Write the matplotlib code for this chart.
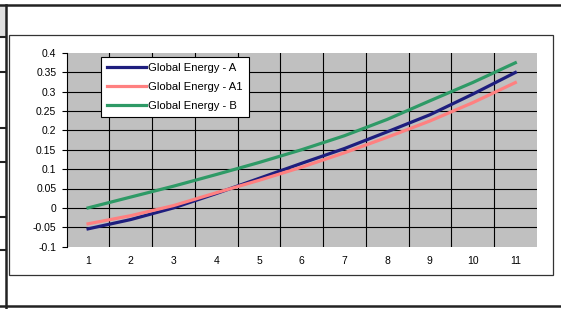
import matplotlib.pyplot as plt
from matplotlib.lines import Line2D
from matplotlib.patches import Rectangle

# values
years = [1, 2, 3, 4, 5, 6, 7, 8, 9, 10, 11]
energy_a = [-0.054, -0.030, 0.000, 0.037, 0.076, 0.115, 0.153, 0.196, 0.240, 0.293, 0.349]
energy_a1 = [-0.041, -0.020, 0.006, 0.039, 0.071, 0.105, 0.142, 0.182, 0.224, 0.271, 0.323]
energy_b = [0.000, 0.028, 0.056, 0.086, 0.117, 0.150, 0.186, 0.228, 0.276, 0.323, 0.374]
y_ticks = [-0.1, -0.05, 0, 0.05, 0.1, 0.15, 0.2, 0.25, 0.3, 0.35, 0.4]
y_labels = ['-0.1', '-0.05', '0', '0.05', '0.1', '0.15', '0.2', '0.25', '0.3', '0.35', '0.4']

plt.rcParams['font.family'] = ['Liberation Sans', 'DejaVu Sans']

W, H = 561, 309
fig = plt.figure(figsize=(W / 100, H / 100), dpi=100)

def px(x, y):
    # pixel coords (top-left origin) -> figure fraction
    return x / W, 1 - y / H

# spreadsheet cell borders around the chart
fig.patches.append(Rectangle(px(0, 37), 6 / W, 32 / H, transform=fig.transFigure,
                             facecolor='#e0e0e0', edgecolor='none', zorder=-2))
fig.add_artist(Line2D([0, 1], [px(0, 5)[1]] * 2, color='#222222', lw=1.8, zorder=-1))
fig.add_artist(Line2D([0, 1], [px(0, 306)[1]] * 2, color='#222222', lw=1.8, zorder=-1))
fig.add_artist(Line2D([px(6, 0)[0]] * 2, [px(0, 5)[1], px(0, 309)[1]], color='#222222', lw=1.8, zorder=-1))
for yy in [37, 72, 128, 162, 217, 250]:
    fig.add_artist(Line2D([0, px(6, 0)[0]], [px(0, yy)[1]] * 2, color='#222222', lw=1.5, zorder=-1))

# chart area border
x0, y0 = px(9, 275)
x1, y1 = px(553, 35)
fig.patches.append(Rectangle((x0, y0), x1 - x0, y1 - y0, transform=fig.transFigure,
                             facecolor='white', edgecolor='#333333', lw=0.9, zorder=-1))

left, top = px(66.7, 52.7)
right, bottom = px(536.7, 246.7)
ax = fig.add_axes([left, bottom, right - left, top - bottom])
ax.set_zorder(2)
ax.set_facecolor('#c0c0c0')

ax.set_xlim(0.5, 11.5)
ax.set_ylim(-0.1, 0.4)

for v in y_ticks[1:-1]:
    ax.axhline(v, color='black', lw=0.8, zorder=1)
for xv in range(1, 11):
    ax.axvline(xv + 0.5, color='black', lw=0.8, zorder=1)

ax.plot(years, energy_a, color='#1e1e7e', lw=2.3, label='Global Energy - A', zorder=3)
ax.plot(years, energy_a1, color='#ff8080', lw=2.3, label='Global Energy - A1', zorder=3)
ax.plot(years, energy_b, color='#2e9a66', lw=2.3, label='Global Energy - B', zorder=3)

for s in ['top', 'right', 'bottom']:
    ax.spines[s].set_visible(False)
ax.spines['left'].set_color('black')
ax.spines['left'].set_linewidth(0.8)

ax.set_yticks(y_ticks)
ax.set_yticklabels(y_labels)
ax.set_xticks(years)
ax.set_xticklabels([str(y) for y in years])
ax.tick_params(axis='y', direction='out', length=3.3, width=0.8, labelsize=7.5, pad=4.2)
ax.tick_params(axis='x', length=0, labelsize=7.5, pad=7)

leg = ax.legend(loc='upper left', bbox_to_anchor=(0.073, 0.978), borderaxespad=0,
                fontsize=8.1, handlelength=3.45, handletextpad=0.2, labelspacing=0.8,
                borderpad=0.55, fancybox=False, framealpha=1, edgecolor='black')
leg.get_frame().set_linewidth(0.8)

fig.savefig('out.png', dpi=100)
